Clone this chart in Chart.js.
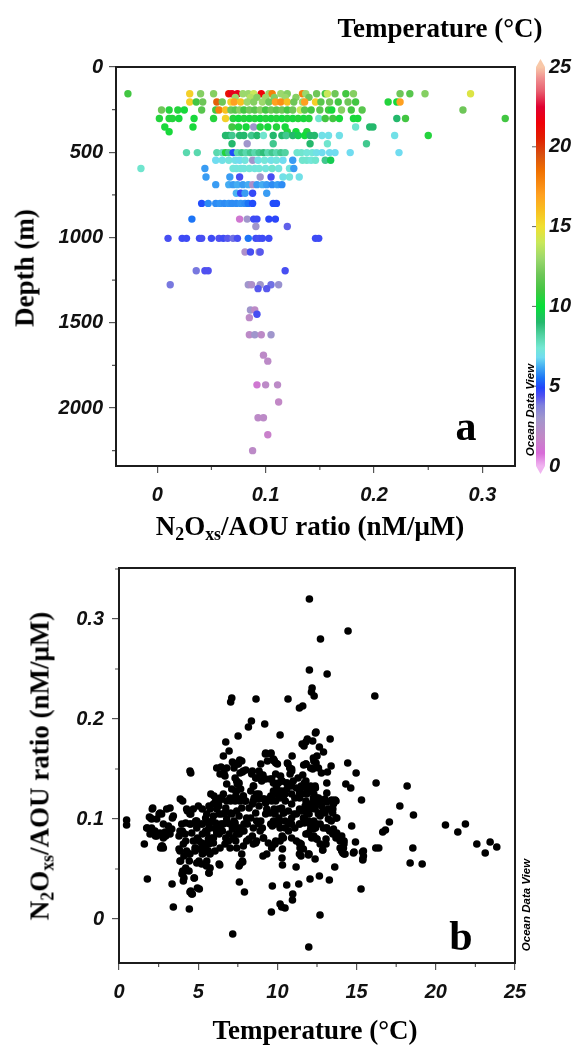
<!DOCTYPE html>
<html>
<head>
<meta charset="utf-8">
<title>N2O excess / AOU ratio vs depth and temperature</title>
<script src="https://cdn.jsdelivr.net/npm/chart.js@4.4.1/dist/chart.umd.min.js"></script>
<style>
  body { margin: 0; background: #fff; }
  #page { position: relative; width: 579px; height: 1050px; overflow: hidden; }
  canvas { position: absolute; left: 0; }
  #chartA { top: 0; }
  #chartB { top: 545px; }
  .label {
    position: absolute;
    font-family: "Liberation Serif", "Times New Roman", serif;
    font-weight: bold;
    font-size: 27px;
    line-height: 1;
    white-space: nowrap;
    color: #000;
    transform: translate(-50%, -50%);
  }
  .label.vert { transform: translate(-50%, -50%) rotate(-90deg); }
  .label sub { font-size: 0.66em; vertical-align: -0.3em; line-height: 0; }
  .panel { font-size: 42px; }
  .odv {
    position: absolute;
    font-family: "Liberation Sans", Arial, sans-serif;
    font-weight: bold;
    font-style: italic;
    font-size: 11.5px;
    white-space: nowrap;
    transform: translate(-50%, -50%) rotate(-90deg);
  }
</style>
</head>
<body>
<div id="page">
  <canvas id="chartA" width="579" height="545"></canvas>
  <canvas id="chartB" width="579" height="505"></canvas>

  <div class="label" style="left:440px; top:28px;">Temperature (°C)</div>
  <div class="label vert" style="left:25px; top:268px;">Depth (m)</div>
  <div class="label" style="left:310px; top:526px;">N<sub>2</sub>O<sub>xs</sub>/AOU ratio (nM/μM)</div>
  <div class="label panel" style="left:466px; top:426px;">a</div>
  <div class="odv" style="left:530px; top:410px;">Ocean Data View</div>

  <div class="label vert" style="left:40px; top:766px;">N<sub>2</sub>O<sub>xs</sub>/AOU ratio (nM/μM)</div>
  <div class="label" style="left:315px; top:1030px;">Temperature (°C)</div>
  <div class="label panel" style="left:461px; top:936px;">b</div>
  <div class="odv" style="left:526px; top:905px;">Ocean Data View</div>
</div>

<script>
// ---- axis ticks ----
const depthTicks = [0, 500, 1000, 1500, 2000];
const depthMinor = [250, 750, 1250, 1750, 2250];
const ratioTicksA = [0, 0.1, 0.2, 0.3];
const ratioMinorA = [0.05, 0.15, 0.25];
const colorbarTicks = [0, 5, 10, 15, 20, 25];
const tempTicks = [0, 5, 10, 15, 20, 25];
const tempMinor = [2.5, 7.5, 12.5, 17.5, 22.5];
const ratioTicksB = [0, 0.1, 0.2, 0.3];
const ratioMinorB = [0.05, 0.15, 0.25, 0.35];

// ---- panel a: ratio per sampling depth, with temperature (°C) ----
const levelDepth = [157, 178, 205, 252, 302, 352, 380, 402, 450, 502, 547, 595, 645, 690, 740, 800,
  892, 935, 1005, 1085, 1195, 1277, 1300, 1425, 1450, 1470, 1570, 1690, 1725, 1864, 1965, 2057, 2157, 2250];

const levelRatio = [
  [-0.027, 0.030, 0.040, 0.052, 0.066, 0.069, 0.074, 0.079, 0.084, 0.089, 0.096, 0.103, 0.106, 0.114,
    0.120, 0.134, 0.137, 0.147, 0.155, 0.157, 0.164, 0.174, 0.181, 0.224, 0.233, 0.247, 0.289],
  [0.072, 0.086, 0.092, 0.100, 0.108, 0.118, 0.128, 0.140],
  [0.030, 0.036, 0.042, 0.055, 0.060, 0.068, 0.071, 0.077, 0.083, 0.089, 0.097, 0.103, 0.109, 0.114,
    0.120, 0.126, 0.134, 0.136, 0.146, 0.151, 0.159, 0.167, 0.176, 0.183, 0.213, 0.221, 0.224],
  [0.004, 0.011, 0.019, 0.025, 0.041, 0.054, 0.057, 0.063, 0.068, 0.072, 0.076, 0.080, 0.085, 0.090,
    0.095, 0.100, 0.105, 0.110, 0.115, 0.120, 0.125, 0.132, 0.136, 0.142, 0.150, 0.158, 0.161, 0.170,
    0.179, 0.189, 0.282],
  [0.002, 0.011, 0.014, 0.020, 0.034, 0.052, 0.063, 0.070, 0.075, 0.080, 0.085, 0.090, 0.095, 0.100,
    0.105, 0.110, 0.115, 0.120, 0.125, 0.130, 0.135, 0.140, 0.149, 0.155, 0.162, 0.168, 0.181, 0.185,
    0.221, 0.229, 0.321],
  [0.007, 0.033, 0.069, 0.075, 0.082, 0.089, 0.095, 0.102, 0.110, 0.118, 0.183, 0.196, 0.199],
  [0.011, 0.120, 0.128, 0.138],
  [0.063, 0.066, 0.069, 0.076, 0.080, 0.087, 0.092, 0.098, 0.107, 0.115, 0.119, 0.125, 0.130, 0.136,
    0.141, 0.145, 0.152, 0.158, 0.168, 0.219, 0.250],
  [0.069, 0.083, 0.107, 0.141, 0.157, 0.193],
  [0.027, 0.037, 0.055, 0.060, 0.063, 0.066, 0.070, 0.074, 0.078, 0.082, 0.086, 0.090, 0.094, 0.098,
    0.102, 0.106, 0.110, 0.114, 0.118, 0.129, 0.133, 0.138, 0.143, 0.147, 0.152, 0.159, 0.164, 0.178, 0.223],
  [0.054, 0.060, 0.066, 0.072, 0.076, 0.081, 0.088, 0.093, 0.099, 0.105, 0.110, 0.116, 0.125, 0.134,
    0.138, 0.142, 0.146, 0.155, 0.160],
  [-0.015, 0.044, 0.070, 0.073, 0.077, 0.080, 0.085, 0.090, 0.094, 0.100, 0.106, 0.112, 0.122, 0.126],
  [0.045, 0.067, 0.076, 0.095, 0.105, 0.116, 0.122, 0.131],
  [0.054, 0.066, 0.070, 0.074, 0.079, 0.084, 0.088, 0.092, 0.097, 0.101, 0.106, 0.111, 0.115],
  [0.073, 0.077, 0.081, 0.088, 0.101],
  [0.041, 0.047, 0.054, 0.058, 0.062, 0.066, 0.069, 0.073, 0.077, 0.081, 0.084, 0.088, 0.107, 0.110],
  [0.032, 0.076, 0.083, 0.089, 0.092, 0.103, 0.109],
  [0.091, 0.120],
  [0.010, 0.023, 0.027, 0.039, 0.041, 0.050, 0.057, 0.061, 0.065, 0.070, 0.074, 0.084, 0.091, 0.094,
    0.097, 0.103, 0.146, 0.149],
  [0.081, 0.086, 0.094, 0.095],
  [0.036, 0.044, 0.047, 0.118],
  [0.012, 0.084, 0.087, 0.095, 0.105, 0.112],
  [0.093, 0.101],
  [0.086, 0.090],
  [0.092],
  [0.085],
  [0.085, 0.090, 0.096, 0.105],
  [0.098],
  [0.102],
  [0.092, 0.100, 0.111],
  [0.112],
  [0.093, 0.098],
  [0.102],
  [0.088]
];

const levelTemp = [
  [11, 15.5, 12.5, 12.5, 21, 22, 22, 13, 13, 14, 21.5, 13, 18, 13,
    12.5, 18, 13, 12, 11, 14, 12, 11, 12.5, 12, 11.5, 12.5, 14.5],
  [13, 13.5, 12.5, 13, 12.5, 13, 12.5, 12],
  [15.5, 11, 12, 19, 12, 15.5, 17, 16, 13, 12.5, 13, 12, 17, 17.5,
    16, 12, 13, 17, 15.5, 11.5, 12, 11, 12, 11, 10.5, 10.2, 17],
  [12, 10.5, 10.5, 10.3, 11.5, 11, 18, 16, 12, 11.5, 12.5, 11, 12, 11.5,
    12.5, 11, 12, 11.5, 12, 11, 12, 14, 11.5, 11, 11.5, 11, 10.3, 12.5,
    11, 11.5, 12],
  [10.5, 10.5, 10.5, 10.3, 10.3, 10.5, 15.5, 10.5, 10.2, 10.5, 10.3, 10.5, 10.2, 10.5,
    10.3, 10.5, 10.2, 10.5, 10.3, 10.5, 10.3, 10.5, 7.5, 11, 11, 10.3, 10.3, 10.3,
    9, 11, 11],
  [10.3, 10.3, 11, 10.5, 10.3, 3, 10.5, 10.3, 10.5, 10.3, 7.5, 9, 9],
  [10.3, 10.5, 10.2, 10.5],
  [9, 9, 8.5, 9, 9, 8.5, 9, 7.5, 9, 9, 8.5, 9, 9.5, 10.2,
    9, 9, 7, 7, 7, 7, 10.5],
  [9, 3, 8.5, 9, 7.5, 8.5],
  [8, 8, 8, 7.8, 10.5, 8.5, 5, 8, 8.5, 8, 8.5, 8, 8.5, 8.8,
    8, 8.5, 8, 8.5, 8.2, 7.5, 7.5, 7.3, 7.3, 7, 6.8, 6.8, 6.8, 6.8, 6.8],
  [6.8, 7, 7.2, 7, 6.8, 7.2, 3, 7, 7.3, 7, 7.2, 6.8, 6, 7.5,
    7.5, 7.3, 7.5, 8.5, 9.5],
  [7.5, 6, 7.3, 7.2, 7.3, 7.2, 7.3, 7.2, 7.3, 7.2, 7.5, 7.2, 7.2, 6],
  [6, 6, 4.5, 3, 4.5, 7, 7.2, 7],
  [6, 6.2, 6, 6.2, 6, 6.2, 2.5, 6, 6.2, 6, 5.8, 6, 5.8],
  [6.3, 4.7, 6, 4.7, 6],
  [5, 5.8, 5.8, 5.9, 5.8, 5.9, 5.8, 5.8, 5.9, 5.8, 5.5, 5, 5, 5],
  [5.5, 1.2, 3, 4.6, 4.6, 4.8, 4.8],
  [3, 4.2],
  [4.5, 4.6, 4.6, 4.6, 4.5, 4.6, 4.4, 4.6, 4.3, 4, 4.5, 5.5, 4.6, 4.5,
    4.6, 4.6, 4.6, 4.6],
  [2.5, 4.5, 2.8, 4.3],
  [3.9, 4.4, 4.4, 4.5],
  [3.9, 3, 2.5, 3, 4, 3.2],
  [4.3, 4.3],
  [3, 2],
  [4.5],
  [2],
  [2, 3, 2, 3],
  [2],
  [2],
  [1.2, 2, 2],
  [1.8],
  [2, 2],
  [1.5],
  [2]
];

// ---- panel b: ratio against temperature ----
const bTemp = [
  12.02, 14.46, 12.72, 12.02, 13.14, 12.19, 12.15, 12.32, 16.15, 7.12,
  7.05, 8.65, 10.67, 11.39, 11.60, 8.36, 8.17, 9.20, 10.17, 7.52,
  12.44, 11.89, 12.23, 11.56, 11.68, 13.33, 6.74, 6.95, 6.59, 9.24,
  9.60, 9.75, 9.90, 10.93, 13.39, 14.44, 14.97, 10.67, 10.90, 11.66,
  6.17, 6.44, 6.59, 4.48, 4.53, 3.87, 4.02, 3.22, 2.13, 1.60,
  0.48, 0.48, 1.79, 3.35, 3.43, 4.44, 4.48, 4.59, 4.02, 3.98,
  4.06, 4.76, 4.95, 5.07, 3.85, 5.68, 6.36, 7.18, 7.60, 7.92,
  7.64, 7.81, 9.68, 9.62, 10.17, 10.27, 10.48, 10.59, 10.97, 10.95,
  11.35, 12.06, 12.65, 12.69, 11.98, 13.28, 13.62, 10.29, 10.32, 10.32,
  9.09, 9.33, 11.18, 11.39, 11.49, 11.43, 11.96, 12.86, 14.13, 14.27,
  13.96, 14.84, 14.93, 15.28, 15.37, 15.43, 15.39, 14.69, 15.31, 16.23,
  16.21, 16.40, 16.65, 16.82, 17.07, 17.73, 18.19, 18.59, 18.55, 18.38,
  19.14, 20.61, 21.39, 21.87, 22.59, 23.12, 23.43, 23.85,
  12.65, 12.91, 12.27, 12.44, 12.23, 12.59, 12.78, 13.16, 11.81, 13.12,
  13.12, 14.32, 14.63, 12.38, 11.75, 11.85, 11.54, 12.27, 12.48, 12.80,
  13.12, 13.43, 13.64, 13.54, 13.33, 13.01, 12.70, 13.49, 13.75, 13.22,
  12.38, 12.07, 11.85, 11.75, 11.64, 11.96, 12.17, 12.27, 12.48, 13.12,
  13.54, 13.75, 14.06, 14.21, 13.96, 11.96, 12.17, 12.48, 12.70, 13.07,
  13.07, 14.17, 14.06, 14.21, 14.80, 15.43, 15.39, 11.43, 11.64, 11.96,
  12.38, 12.86,
  2.59, 2.69, 3.01, 3.43, 1.92, 2.06, 2.38, 2.80, 3.12, 1.75,
  2.06, 2.27, 2.59, 2.91, 3.33, 1.96, 2.38, 2.80, 3.22, 2.69,
  2.80,
  2.10, 2.00, 2.53, 3.37, 4.32, 4.53, 4.84, 5.26, 5.68, 5.47,
  5.89, 6.32, 6.74, 6.53, 7.05, 7.26, 7.58, 7.89, 8.21, 8.32,
  8.63, 8.95, 9.26, 9.58, 9.79, 10.10, 10.40, 10.70, 11.05, 11.40,
  11.70, 12.00, 12.30, 12.60, 6.00, 6.32, 6.10, 6.30, 6.50, 5.80,
  7.05, 7.37, 7.58, 7.16, 7.47, 7.62, 7.26, 7.79, 8.00, 6.63,
  8.84, 9.09, 9.26, 9.64, 9.89, 10.30, 10.60, 9.26, 9.58, 9.79,
  10.00, 10.63, 10.78, 11.80, 12.10, 12.30, 12.50, 12.40, 8.50, 7.47,
  7.68, 7.37, 7.62, 7.85, 8.84, 9.16, 9.58, 9.89, 10.30, 10.60,
  10.90, 11.40, 11.70, 12.00, 12.30, 12.60, 8.42, 8.63, 8.95, 9.37,
  9.79, 9.89, 10.20, 10.90, 11.30, 11.60, 11.80, 12.10, 12.40, 8.32,
  8.53, 8.84, 9.26, 9.68, 10.10, 10.50, 10.90, 11.40, 11.80, 12.20,
  12.50, 8.00, 8.42, 11.80,
  1.79, 2.10, 2.30, 2.60, 2.95, 3.16, 2.74, 2.63, 3.79, 4.00,
  4.21, 3.79, 3.89, 4.10, 4.42, 4.21, 4.00, 4.10, 4.42, 4.74,
  4.53, 4.63, 5.68, 5.52, 6.32, 5.05, 5.26, 5.47, 5.68, 5.89,
  4.84, 5.05, 5.26, 5.47, 5.68, 6.10, 6.32, 6.53, 6.74, 6.95,
  7.16, 7.37, 7.58, 7.89, 8.21, 8.42, 8.63, 7.79, 7.58, 9.68,
  9.89, 10.30, 10.70, 11.40, 11.50, 11.80, 12.10, 12.00, 9.05, 9.68,
  10.10, 10.50, 10.90, 11.40, 11.70, 12.10, 12.40, 8.10, 7.68, 7.26,
  6.84, 6.42, 6.10, 5.68, 5.26, 4.84, 4.53, 4.21,
  4.06, 4.69, 5.22, 5.64, 4.48, 5.12, 5.75, 6.38, 6.91, 7.43,
  7.85, 7.01, 7.75, 8.06, 6.06, 5.54, 4.91, 5.22, 5.75, 4.44,
  4.17, 8.69, 8.48, 9.12, 9.43, 9.64, 9.85, 10.17, 10.38, 10.90,
  11.20, 11.50, 11.96, 12.30, 12.50, 12.90, 13.30, 13.50, 13.70, 13.96,
  14.20, 13.20, 13.50, 13.70, 13.00, 13.40, 13.70, 12.30, 12.50, 12.70,
  10.80, 11.00, 11.20, 11.50, 11.70, 10.90, 11.10, 11.40, 11.85, 12.06,
  8.38, 8.69, 8.91, 9.01, 8.48, 8.69, 8.80, 8.48, 9.12, 9.43,
  9.64, 9.96, 10.17, 10.38, 9.54, 9.75, 10.06, 10.27, 10.59, 9.75,
  9.96, 10.27, 10.48, 9.33, 9.54, 9.85, 10.06, 10.27, 10.38, 9.75,
  9.96, 10.17, 10.48, 8.69, 8.80, 8.48, 8.91, 9.12, 10.69, 10.90,
  11.20, 11.50, 11.85, 12.06, 12.38, 12.59, 12.90, 10.80, 11.10, 11.40,
  11.70, 12.06, 12.40, 12.70, 13.10, 13.40,
  5.96, 6.17, 6.48, 6.69, 6.80, 7.01, 7.43, 7.33, 7.64, 7.85,
  7.96, 7.75, 7.43, 7.12, 6.80, 6.59, 6.38, 6.17, 5.96, 7.01,
  7.33, 7.54, 7.75, 7.96, 8.06, 7.43, 7.22, 6.69, 7.33, 7.43,
  7.54, 7.64, 7.85, 7.54, 7.75, 7.22, 6.80, 6.38, 6.69, 6.80,
  7.12, 6.59, 6.38, 6.17, 5.96, 5.75,
  4.27, 4.48, 4.69, 5.01, 4.48, 3.96, 3.85, 4.17, 4.59, 4.91,
  5.22, 5.54, 5.75, 5.54, 4.91, 4.95, 5.43, 4.27, 4.80, 5.33,
  5.64, 3.85, 4.80, 5.54, 5.85, 5.96
];

const bRatio = [
  0.320, 0.288, 0.280, 0.249, 0.245, 0.231, 0.227, 0.223, 0.223, 0.221,
  0.217, 0.220, 0.220, 0.211, 0.213, 0.198, 0.192, 0.195, 0.184, 0.183,
  0.187, 0.180, 0.178, 0.175, 0.173, 0.180, 0.177, 0.168, 0.163, 0.165,
  0.166, 0.160, 0.156, 0.163, 0.153, 0.156, 0.146, 0.155, 0.150, 0.154,
  0.151, 0.152, 0.145, 0.148, 0.146, 0.120, 0.118, 0.111, 0.111, 0.075,
  0.099, 0.094, 0.040, 0.035, 0.012, 0.010, 0.027, 0.025, 0.048, 0.045,
  0.038, 0.041, 0.031, 0.030, 0.058, 0.046, 0.054, -0.015, 0.037, 0.027,
  0.055, 0.057, 0.033, 0.007, 0.015, 0.012, 0.011, 0.034, 0.025, 0.019,
  0.035, 0.040, 0.043, 0.004, -0.028, 0.039, 0.052, 0.061, 0.054, 0.070,
  0.063, 0.065, 0.052, 0.065, 0.063, 0.071, 0.064, 0.069, 0.066, 0.065,
  0.071, 0.067, 0.077, 0.030, 0.067, 0.063, 0.059, 0.093, 0.119, 0.136,
  0.071, 0.071, 0.087, 0.089, 0.097, 0.113, 0.133, 0.104, 0.071, 0.056,
  0.055, 0.094, 0.087, 0.095, 0.075, 0.066, 0.077, 0.072,
  0.172, 0.167, 0.161, 0.156, 0.150, 0.151, 0.146, 0.147, 0.155, 0.136,
  0.126, 0.135, 0.131, 0.133, 0.135, 0.130, 0.125, 0.121, 0.117, 0.113,
  0.117, 0.119, 0.119, 0.115, 0.110, 0.106, 0.103, 0.106, 0.101, 0.100,
  0.113, 0.110, 0.106, 0.113, 0.101, 0.098, 0.095, 0.090, 0.095, 0.091,
  0.090, 0.086, 0.083, 0.078, 0.080, 0.085, 0.081, 0.080, 0.075, 0.080,
  0.075, 0.071, 0.068, 0.065, 0.066, 0.068, 0.060, 0.075, 0.070, 0.065,
  0.060, 0.069,
  0.106, 0.105, 0.110, 0.103, 0.102, 0.100, 0.100, 0.095, 0.093, 0.091,
  0.091, 0.088, 0.086, 0.087, 0.090, 0.085, 0.083, 0.081, 0.085, 0.073,
  0.071,
  0.110, 0.101, 0.105, 0.101, 0.108, 0.105, 0.098, 0.110, 0.113, 0.101,
  0.098, 0.105, 0.111, 0.095, 0.106, 0.098, 0.103, 0.095, 0.111, 0.101,
  0.106, 0.098, 0.105, 0.095, 0.110, 0.101, 0.106, 0.096, 0.105, 0.110,
  0.100, 0.105, 0.098, 0.106, 0.123, 0.118, 0.118, 0.113, 0.120, 0.125,
  0.118, 0.128, 0.136, 0.157, 0.155, 0.159, 0.151, 0.147, 0.149, 0.146,
  0.148, 0.144, 0.140, 0.140, 0.135, 0.138, 0.136, 0.166, 0.165, 0.159,
  0.155, 0.156, 0.151, 0.155, 0.151, 0.158, 0.163, 0.186, 0.133, 0.135,
  0.130, 0.123, 0.118, 0.123, 0.125, 0.120, 0.123, 0.118, 0.125, 0.130,
  0.133, 0.128, 0.132, 0.128, 0.125, 0.121, 0.148, 0.141, 0.155, 0.158,
  0.158, 0.145, 0.143, 0.148, 0.141, 0.144, 0.138, 0.133, 0.131, 0.128,
  0.121, 0.113, 0.116, 0.120, 0.123, 0.118, 0.115, 0.121, 0.118, 0.115,
  0.118, 0.118, 0.115, 0.177,
  0.091, 0.088, 0.083, 0.085, 0.083, 0.088, 0.073, 0.071, 0.083, 0.088,
  0.078, 0.070, 0.058, 0.063, 0.065, 0.051, 0.046, 0.041, 0.048, 0.041,
  0.028, 0.025, 0.046, 0.053, 0.055, 0.058, 0.065, 0.071, 0.075, 0.078,
  0.071, 0.078, 0.085, 0.088, 0.091, 0.090, 0.085, 0.088, 0.081, 0.085,
  0.090, 0.078, 0.085, 0.088, 0.080, 0.083, 0.076, 0.058, 0.053, 0.073,
  0.078, 0.083, 0.088, 0.076, 0.071, 0.085, 0.090, 0.065, 0.091, 0.093,
  0.096, 0.091, 0.095, 0.095, 0.096, 0.096, 0.093, 0.095, 0.091, 0.095,
  0.096, 0.095, 0.096, 0.096, 0.095, 0.096, 0.095, 0.096,
  0.075, 0.078, 0.076, 0.080, 0.065, 0.070, 0.065, 0.071, 0.078, 0.071,
  0.073, 0.071, 0.065, 0.078, 0.068, 0.058, 0.056, 0.055, 0.051, 0.058,
  0.048, 0.078, 0.075, 0.081, 0.076, 0.071, 0.075, 0.078, 0.081, 0.081,
  0.078, 0.075, 0.086, 0.083, 0.080, 0.091, 0.088, 0.085, 0.081, 0.078,
  0.075, 0.110, 0.110, 0.101, 0.120, 0.118, 0.118, 0.118, 0.121, 0.118,
  0.145, 0.138, 0.131, 0.133, 0.136, 0.125, 0.121, 0.126, 0.125, 0.128,
  0.145, 0.141, 0.145, 0.138, 0.133, 0.125, 0.120, 0.118, 0.120, 0.120,
  0.118, 0.125, 0.121, 0.123, 0.140, 0.136, 0.136, 0.138, 0.136, 0.128,
  0.131, 0.128, 0.125, 0.110, 0.106, 0.105, 0.110, 0.111, 0.106, 0.098,
  0.095, 0.091, 0.098, 0.098, 0.095, 0.091, 0.088, 0.081, 0.108, 0.101,
  0.105, 0.108, 0.111, 0.115, 0.110, 0.105, 0.108, 0.095, 0.091, 0.095,
  0.100, 0.095, 0.091, 0.095, 0.091, 0.098,
  0.115, 0.110, 0.105, 0.106, 0.118, 0.121, 0.128, 0.118, 0.120, 0.123,
  0.118, 0.111, 0.108, 0.105, 0.100, 0.095, 0.091, 0.086, 0.081, 0.095,
  0.096, 0.091, 0.088, 0.095, 0.101, 0.085, 0.081, 0.075, 0.141, 0.138,
  0.135, 0.146, 0.148, 0.155, 0.158, 0.156, 0.151, 0.145, 0.143, 0.135,
  0.130, 0.125, 0.121, 0.118, 0.103, 0.091,
  0.110, 0.105, 0.110, 0.113, 0.095, 0.095, 0.088, 0.085, 0.086, 0.091,
  0.095, 0.098, 0.110, 0.105, 0.098, 0.081, 0.075, 0.068, 0.068, 0.066,
  0.068, 0.068, 0.071, 0.086, 0.081, 0.076
];

// ---- styling ----
// ODV-like rainbow, temperature (°C) -> colour
const colorStops = [
  [0, '#f0b4f0'], [0.8, '#d86cd8'], [1.8, '#c288c6'], [3, '#a096cc'], [3.8, '#8080dc'],
  [4.4, '#5050f0'], [4.9, '#2244fc'], [5.5, '#1c74f6'], [6.2, '#44acf2'], [6.8, '#70dcf0'],
  [7.4, '#74e8d4'], [8.2, '#52d2a2'], [9, '#24b86c'], [10, '#06e038'], [11, '#42c642'],
  [12, '#6ec658'], [13, '#9cd86c'], [14, '#c8e85a'], [15, '#f0e030'], [16, '#f8c020'],
  [17, '#ffa020'], [18.5, '#f07000'], [19.5, '#d85010'], [20.5, '#e02000'], [21.5, '#f00008'],
  [22.5, '#e00030'], [23.5, '#e86070'], [24.3, '#f09090'], [25, '#f8c8a8']
];

function hexToRgb(hex) {
  const n = parseInt(hex.slice(1), 16);
  return [(n >> 16) & 255, (n >> 8) & 255, n & 255];
}

function tempColor(t) {
  if (t <= colorStops[0][0]) return colorStops[0][1];
  for (let i = 1; i < colorStops.length; i++) {
    const [t1, c1] = colorStops[i];
    if (t <= t1) {
      const [t0, c0] = colorStops[i - 1];
      const f = (t - t0) / (t1 - t0);
      const a = hexToRgb(c0);
      const b = hexToRgb(c1);
      const mix = a.map((v, k) => Math.round(v + (b[k] - v) * f));
      return `rgb(${mix[0]}, ${mix[1]}, ${mix[2]})`;
    }
  }
  return colorStops[colorStops.length - 1][1];
}

const tickFont = { family: '"Liberation Sans", Arial, sans-serif', size: 20, style: 'italic', weight: 'bold' };

function fixedTicks(values) {
  return (scale) => {
    scale.ticks = values.map((value) => ({ value }));
  };
}

function axisOptions(extra) {
  return Object.assign({
    type: 'linear',
    border: { display: false },
    grid: { display: true, drawOnChartArea: false, drawTicks: true, tickLength: 7, color: '#555', lineWidth: 1.2 },
    ticks: { font: tickFont, color: '#111', callback: (v) => String(v) },
  }, extra);
}

// frame round the plot plus the short unlabelled ticks
function framePlugin(minorX, minorY) {
  return {
    id: 'frame',
    afterDraw(chart) {
      const { ctx, chartArea: area, scales } = chart;
      ctx.save();
      ctx.strokeStyle = '#555';
      ctx.lineWidth = 1.2;
      ctx.beginPath();
      minorX.forEach((v) => {
        const x = scales.x.getPixelForValue(v);
        ctx.moveTo(x, area.bottom);
        ctx.lineTo(x, area.bottom + 4);
      });
      minorY.forEach((v) => {
        const y = scales.y.getPixelForValue(v);
        ctx.moveTo(area.left - 4, y);
        ctx.lineTo(area.left, y);
      });
      ctx.stroke();
      ctx.strokeStyle = '#1c1c1c';
      ctx.lineWidth = 2;
      ctx.strokeRect(area.left, area.top, area.right - area.left, area.bottom - area.top);
      ctx.restore();
    },
  };
}

const colorbarPlugin = {
  id: 'colorbar',
  afterDraw(chart) {
    const { ctx, chartArea: area } = chart;
    const cb = chart.scales.cb;
    const x0 = area.right + 21;
    const w = 9;
    const yTop = cb.getPixelForValue(25);
    const yBot = cb.getPixelForValue(0);
    ctx.save();
    const grad = ctx.createLinearGradient(0, yBot, 0, yTop);
    colorStops.forEach(([t, c]) => grad.addColorStop(t / 25, c));
    ctx.fillStyle = grad;
    ctx.fillRect(x0, yTop, w, yBot - yTop);
    // end caps
    ctx.fillStyle = tempColor(25);
    ctx.beginPath();
    ctx.moveTo(x0, yTop);
    ctx.lineTo(x0 + w / 2, yTop - 8);
    ctx.lineTo(x0 + w, yTop);
    ctx.fill();
    ctx.fillStyle = tempColor(0);
    ctx.beginPath();
    ctx.moveTo(x0, yBot);
    ctx.lineTo(x0 + w / 2, yBot + 8);
    ctx.lineTo(x0 + w, yBot);
    ctx.fill();
    ctx.strokeStyle = '#666';
    ctx.lineWidth = 1;
    ctx.beginPath();
    colorbarTicks.slice(1, -1).forEach((v) => {
      const y = cb.getPixelForValue(v);
      ctx.moveTo(x0 - 4, y);
      ctx.lineTo(x0, y);
    });
    ctx.stroke();
    ctx.restore();
  },
};

// ---- panel a ----
const pointsA = [];
const coloursA = [];
levelDepth.forEach((depth, i) => {
  levelRatio[i].forEach((ratio, j) => {
    pointsA.push({ x: ratio, y: depth });
    coloursA.push(tempColor(levelTemp[i][j]));
  });
});

new Chart(document.getElementById('chartA'), {
  type: 'scatter',
  data: {
    datasets: [{
      data: pointsA,
      pointRadius: 3.7,
      pointBorderWidth: 0,
      pointBackgroundColor: coloursA,
    }],
  },
  options: {
    responsive: false,
    animation: false,
    events: [],
    layout: { padding: { top: 67, left: 0, right: 0, bottom: 0 } },
    plugins: { legend: { display: false }, tooltip: { enabled: false } },
    scales: {
      x: axisOptions({
        position: 'bottom', min: -0.038, max: 0.33,
        afterBuildTicks: fixedTicks(ratioTicksA),
        afterFit: (s) => { s.height = 79; },
        ticks: { font: tickFont, color: '#111', padding: 10, callback: (v) => String(v) },
      }),
      y: axisOptions({
        position: 'left', reverse: true, min: 0, max: 2340,
        afterBuildTicks: fixedTicks(depthTicks),
        afterFit: (s) => { s.width = 116; },
        ticks: { font: tickFont, color: '#111', padding: 6, callback: (v) => String(v) },
      }),
      cb: {
        type: 'linear', position: 'right', min: 0, max: 25,
        border: { display: false },
        grid: { display: false, drawTicks: false },
        afterBuildTicks: fixedTicks(colorbarTicks),
        afterFit: (s) => { s.width = 64; },
        ticks: { font: tickFont, color: '#111', padding: 34, callback: (v) => String(v) },
      },
    },
  },
  plugins: [framePlugin(ratioMinorA, depthMinor), colorbarPlugin],
});

// ---- panel b ----
if (bTemp.length !== bRatio.length) {
  console.warn('panel b arrays differ in length', bTemp.length, bRatio.length);
}
const pointsB = bTemp.map((t, i) => ({ x: t, y: bRatio[i] }));

new Chart(document.getElementById('chartB'), {
  type: 'scatter',
  data: {
    datasets: [{
      data: pointsB,
      pointRadius: 3.8,
      pointBorderWidth: 0,
      pointBackgroundColor: '#000',
    }],
  },
  options: {
    responsive: false,
    animation: false,
    events: [],
    layout: { padding: { top: 23, left: 0, right: 64, bottom: 0 } },
    plugins: { legend: { display: false }, tooltip: { enabled: false } },
    scales: {
      x: axisOptions({
        position: 'bottom', min: 0, max: 25,
        afterBuildTicks: fixedTicks(tempTicks),
        afterFit: (s) => { s.height = 87; },
        ticks: { font: tickFont, color: '#111', padding: 10, callback: (v) => String(v) },
      }),
      y: axisOptions({
        position: 'left', min: -0.044, max: 0.351,
        afterBuildTicks: fixedTicks(ratioTicksB),
        afterFit: (s) => { s.width = 119; },
        ticks: { font: tickFont, color: '#111', padding: 8, callback: (v) => String(v) },
      }),
    },
  },
  plugins: [framePlugin(tempMinor, ratioMinorB)],
});
</script>
</body>
</html>
